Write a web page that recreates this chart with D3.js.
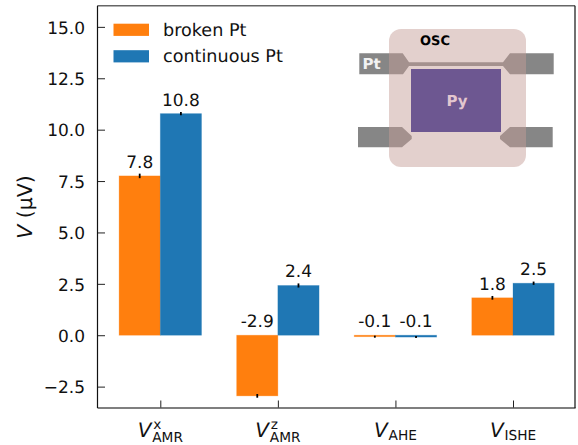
<!DOCTYPE html>
<html><head><meta charset="utf-8">
<script src="https://cdn.jsdelivr.net/npm/d3@7"></script>
<style>html,body{margin:0;padding:0;background:#fff}svg{display:block}text{font-family:"DejaVu Sans";fill:#111;text-rendering:geometricPrecision}</style>
</head><body><svg id="c" width="578" height="445"></svg>
<script>
const categories=[{sup:"x",sub:"AMR"},{sup:"z",sub:"AMR"},{sup:"",sub:"AHE"},{sup:"",sub:"ISHE"}];
const brokenPt=[7.75,-2.95,-0.07,1.82];
const continuousPt=[10.78,2.42,-0.09,2.53];
const brokenLabels=["7.8","-2.9","-0.1","1.8"];
const continuousLabels=["10.8","2.4","-0.1","2.5"];
const brokenErr=[0.11,0.09,0.05,0.09];
const continuousErr=[0.08,0.1,0.05,0.08];
const yTicks=[-2.5,0,2.5,5,7.5,10,12.5,15];
const seriesNames=["broken Pt","continuous Pt"];
const colors=["#ff7f0e","#1f77b4"];

const svg=d3.select("#c");
const L=97.5,R=575,T=5.7,B=408;
const y=d3.scaleLinear().domain([-3.54,16.03]).range([B,T]);
const x=d3.scaleLinear().domain([0,3]).range([160.3,513]);
const bw=41.2;
const series=[{v:brokenPt,l:brokenLabels,e:brokenErr,c:colors[0],o:-1},{v:continuousPt,l:continuousLabels,e:continuousErr,c:colors[1],o:0}];
series.forEach(s=>{
  const g=svg.append("g");
  g.selectAll("rect").data(s.v).join("rect")
   .attr("x",(d,i)=>x(i)+s.o*bw).attr("width",bw)
   .attr("y",d=>y(Math.max(d,0))).attr("height",d=>Math.abs(y(d)-y(0)))
   .attr("fill",s.c).attr("stroke",s.c).attr("stroke-opacity",.35).attr("stroke-width",.8);
  g.selectAll("line").data(s.v).join("line")
   .attr("x1",(d,i)=>x(i)+(s.o+.5)*bw).attr("x2",(d,i)=>x(i)+(s.o+.5)*bw)
   .attr("y1",(d,i)=>y(d-s.e[i])).attr("y2",(d,i)=>y(d+s.e[i]))
   .attr("stroke","#000").attr("stroke-width",1.8);
  g.selectAll("text").data(s.v).join("text")
   .attr("x",(d,i)=>x(i)+(s.o+.5)*bw)
   .attr("y",d=>y(Math.max(d,0))-8)
   .attr("text-anchor","middle").attr("font-size",17)
   .text((d,i)=>s.l[i]);
});
// inset schematic
const inset=svg.append("g");
const pads=[
 "M359.3,53.3H402.7L409,62.3H503L510,53.3H553.7V74.3H510L503,66H409L403,74.3H359.3Z",
 "M358,127H402L411.7,136V139L402,147.3H358Z",
 "M552.7,127H510L500,136V139L510,147.3H552.7Z"];
pads.forEach(p=>inset.append("path").attr("d",p).attr("fill","#868686"));
inset.append("rect").attr("x",389).attr("y",29).attr("width",137).attr("height",138).attr("rx",12)
 .attr("fill","#c59d97").attr("fill-opacity",.48);
inset.append("rect").attr("x",411).attr("y",69).attr("width",90).attr("height",63).attr("fill","#6d5791");
inset.append("text").attr("x",435).attr("y",45).attr("text-anchor","middle").attr("font-size",13).attr("font-weight","bold").style("fill","#000").text("OSC");
inset.append("text").attr("x",362.5).attr("y",69).attr("font-size",15).attr("font-weight","bold").style("fill","#f2f2f2").text("Pt");
inset.append("text").attr("x",457).attr("y",106).attr("text-anchor","middle").attr("font-size",15).attr("font-weight","bold").style("fill","#e3c6cf").text("Py");

// axes
const ax=svg.append("g").attr("transform",`translate(${L},0)`)
 .call(d3.axisRight(y).tickValues(yTicks).tickSize(7.5).tickFormat(""));
ax.select(".domain").remove();
ax.selectAll("line").attr("stroke","#222").attr("stroke-width",1);
svg.append("g").selectAll("text").data(yTicks).join("text")
 .attr("x",L-12.5).attr("y",d=>y(d)+6.8).attr("text-anchor","end").attr("font-size",17)
 .text(d=>(d<0?"\u2212":"")+Math.abs(d).toFixed(1));
const xa=svg.append("g").attr("transform",`translate(0,${B})`)
 .call(d3.axisTop(x).tickValues(d3.range(categories.length)).tickSize(7.5).tickFormat(""));
xa.select(".domain").remove();
xa.selectAll("line").attr("stroke","#222").attr("stroke-width",1);
svg.append("line").attr("x1",L).attr("x2",R).attr("y1",T).attr("y2",T).attr("stroke","#666").attr("stroke-width",1.4);
svg.append("line").attr("x1",L).attr("x2",R+.6).attr("y1",B).attr("y2",B).attr("stroke","#555").attr("stroke-width",1.6);
svg.append("line").attr("x1",L).attr("x2",L).attr("y1",T).attr("y2",B).attr("stroke","#111").attr("stroke-width",1.2);
svg.append("line").attr("x1",R).attr("x2",R).attr("y1",T).attr("y2",B).attr("stroke","#111").attr("stroke-width",1.2);

const cl=svg.append("g").selectAll("text").data(categories).join("text").attr("font-size",20);
cl.each(function(d,i){
  const t=d3.select(this);
  const m=svg.append("text").attr("font-size",13.7).text(d.sub);
  const w=m.node().getComputedTextLength(); m.remove();
  const vw=14.5, x0=x(i)-(vw+w)/2;
  t.append("tspan").attr("x",x0).attr("y",436.5).attr("font-style","italic").text("V");
  if(d.sup) t.append("tspan").attr("x",x0+vw+1).attr("y",428.5).attr("font-size",13.7).text(d.sup);
  t.append("tspan").attr("x",x0+vw).attr("y",d.sup?441.7:439.7).attr("font-size",13.7).text(d.sub);
});

svg.append("text").attr("transform","translate(32,207) rotate(-90)").attr("text-anchor","middle").attr("font-size",20.5)
 .html('<tspan font-style="italic">V</tspan> (µV)');

// legend
const lg=svg.append("g").selectAll("g").data(seriesNames).join("g").attr("transform",(d,i)=>`translate(113.5,${23.7+i*26.5})`);
lg.append("rect").attr("width",35.5).attr("height",12.2).attr("fill",(d,i)=>colors[i]);
lg.append("text").attr("x",49.5).attr("y",12).attr("font-size",17.6).text(d=>d);
</script></body></html>
